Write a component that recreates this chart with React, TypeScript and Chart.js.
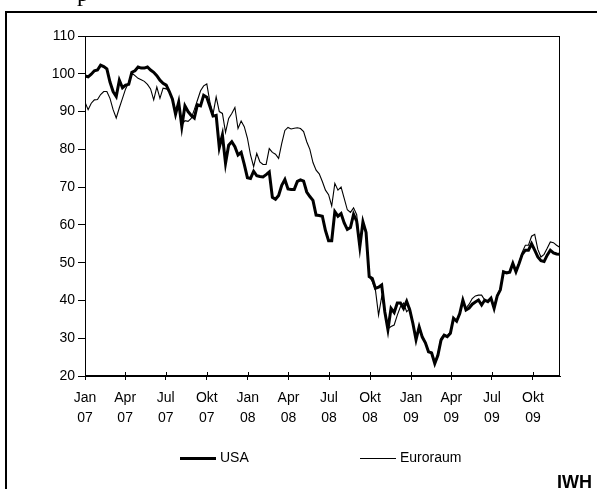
import React, { useEffect, useRef } from "react";
import { Chart, registerables } from "chart.js";

Chart.register(...registerables);

// ---- data (weekly index values, first week = start of January 2007) ----
const startDate = "2007-01-01";
const tickDates = [
  "2007-01-01", "2007-04-01", "2007-07-01", "2007-10-01",
  "2008-01-01", "2008-04-01", "2008-07-01", "2008-10-01",
  "2009-01-01", "2009-04-01", "2009-07-01", "2009-10-01",
];
const tickLabels = [
  "Jan 07", "Apr 07", "Jul 07", "Okt 07",
  "Jan 08", "Apr 08", "Jul 08", "Okt 08",
  "Jan 09", "Apr 09", "Jul 09", "Okt 09",
];
const seriesNames = ["USA", "Euroraum"];

const usa = [
  99.4, 99.2, 99.9, 100.8, 101.0, 102.3, 101.9, 101.3, 97.8, 95.3,
  94.0, 98.3, 96.3, 97.0, 97.2, 100.4, 100.8, 101.8, 101.5, 101.5,
  101.8, 101.0, 100.4, 99.5, 98.3, 97.5, 97.0, 95.3, 93.3, 89.3,
  92.5, 86.0, 91.5, 90.0, 89.0, 88.3, 91.8, 91.5, 94.3, 93.8,
  91.3, 88.8, 89.0, 80.5, 83.8, 76.3, 81.1, 82.0, 80.7, 78.5,
  79.2, 76.0, 72.5, 72.3, 74.2, 73.0, 72.8, 72.7, 73.3, 74.0,
  67.3, 66.8, 67.8, 70.5, 72.0, 69.5, 69.4, 69.4, 71.5, 71.9,
  71.6, 68.7, 67.5, 66.5, 62.6, 62.5, 62.3, 58.5, 55.8, 55.8,
  63.5, 62.3, 63.0, 60.5, 58.8, 59.3, 62.8, 61.0, 54.2, 60.8,
  58.0, 46.3, 45.8, 43.2, 43.5, 44.1, 37.0, 32.3, 37.9, 36.8,
  39.3, 39.3, 37.9, 39.8, 37.5, 33.9, 29.6, 33.0, 30.3, 28.8,
  26.4, 26.1, 23.3, 25.5, 29.5, 30.8, 30.4, 31.3, 35.3, 34.5,
  36.5, 40.1, 37.5, 38.0, 39.0, 39.6, 40.1, 38.8, 40.1, 39.7,
  40.6, 37.9, 41.2, 42.8, 47.6, 47.3, 47.5, 49.8, 47.6, 49.8,
  52.2, 53.3, 53.3, 55.0, 53.3, 51.5, 50.5, 50.3, 52.0, 53.3,
  52.6, 52.3, 52.2,
];

const euroraum = [
  92.5, 90.5, 92.2, 93.1, 93.2, 94.5, 95.3, 95.3, 93.5, 90.5,
  88.3, 91.0, 93.5, 96.0, 97.7, 100.2, 99.5, 98.8, 98.4, 98.0,
  97.2, 96.0, 93.1, 96.5, 93.5, 96.2, 96.0, 95.5, 93.0, 89.5,
  92.0, 86.5, 87.6, 87.4, 88.2, 90.5, 93.0, 95.5, 96.8, 97.3,
  92.5, 89.3, 93.9, 90.0, 89.5, 84.5, 88.2, 89.5, 91.1, 85.5,
  87.5, 86.0, 83.0, 78.5, 75.4, 78.9, 76.7, 76.0, 76.0, 80.2,
  79.2, 78.7, 77.6, 81.6, 85.0, 85.8, 85.4, 85.6, 85.7, 85.5,
  84.7, 82.0, 80.0, 76.5, 74.5, 73.5, 71.5, 69.2, 68.0, 65.0,
  71.0, 69.2, 70.0, 67.0, 64.0, 63.3, 64.5, 62.7, 54.5, 60.5,
  58.5, 46.3, 45.0, 42.8, 36.1, 41.0, 37.5, 32.5, 33.1, 33.5,
  36.1, 38.3, 39.3, 37.0, 37.9, 34.0, 29.8, 33.3, 30.5, 29.0,
  26.5, 26.3, 23.5, 26.0, 30.0, 31.0, 30.6, 31.6, 35.0, 34.8,
  36.5, 39.5, 38.0, 39.0, 40.5, 41.2, 41.4, 41.4, 40.1, 39.8,
  40.6, 38.3, 41.5, 43.0, 47.2, 47.5, 47.5, 49.3, 48.0, 50.0,
  52.8, 54.6, 54.6, 57.0, 57.5, 53.5, 51.5, 52.2, 53.8, 55.5,
  55.3, 54.6, 54.1,
];

const weekOf = (d: string) =>
  (Date.parse(d) - Date.parse(startDate)) / (7 * 86400000);

const FONT = '"Liberation Sans", Arial, sans-serif';

const decorPlugin = {
  id: "decor",
  afterDraw(chart: any) {
    const ctx = chart.ctx as CanvasRenderingContext2D;
    const a = chart.chartArea;
    ctx.save();
    // plot border
    ctx.strokeStyle = "#000";
    ctx.lineWidth = 1;
    ctx.strokeRect(
      Math.round(a.left) + 0.5,
      Math.round(a.top) + 0.5,
      Math.round(a.right - a.left) - 1,
      Math.round(a.bottom - a.top) - 1
    );
    // inner part of x ticks
    const xs = chart.scales.x;
    ctx.beginPath();
    xs.ticks.forEach((t: any) => {
      const px = Math.round(xs.getPixelForValue(t.value)) + 0.5;
      ctx.moveTo(px, a.bottom);
      ctx.lineTo(px, a.bottom - 4);
    });
    ctx.stroke();

    // legend
    const legendY = 458.5;
    const items = [
      { x: 180, ds: chart.data.datasets[0], w: 3 },
      { x: 360, ds: chart.data.datasets[1], w: 1 },
    ];
    ctx.font = `14px ${FONT}`;
    ctx.textBaseline = "middle";
    ctx.textAlign = "left";
    ctx.fillStyle = "#000";
    items.forEach((it) => {
      ctx.beginPath();
      ctx.lineWidth = it.w;
      ctx.strokeStyle = it.ds.borderColor;
      ctx.moveTo(it.x, legendY);
      ctx.lineTo(it.x + 36, legendY);
      ctx.stroke();
      ctx.fillText(it.ds.label, it.x + 40, legendY - 0.5);
    });

    // outer frame
    ctx.lineWidth = 2;
    ctx.strokeStyle = "#000";
    ctx.beginPath();
    ctx.moveTo(6, 489);
    ctx.lineTo(6, 12);
    ctx.lineTo(597, 12);
    ctx.stroke();

    // IWH
    ctx.font = `bold 18px ${FONT}`;
    ctx.textBaseline = "alphabetic";
    ctx.fillText("IWH", 557, 488);

    // clipped heading letter at top
    ctx.font = '24px "Liberation Serif", serif';
    ctx.fillText("p", 77, 1);
    ctx.restore();
  },
};

export default function App() {
  const ref = useRef<HTMLCanvasElement | null>(null);

  useEffect(() => {
    if (!ref.current) return;
    const chart = new Chart(ref.current, {
      type: "line",
      data: {
        datasets: [
          {
            label: seriesNames[0],
            data: usa.map((v, i) => ({ x: i, y: v })),
            borderColor: "#000",
            borderWidth: 3,
            pointRadius: 0,
            tension: 0,
            fill: false,
          },
          {
            label: seriesNames[1],
            data: euroraum.map((v, i) => ({ x: i, y: v })),
            borderColor: "#000",
            borderWidth: 1.1,
            pointRadius: 0,
            tension: 0,
            fill: false,
          },
        ],
      },
      options: {
        responsive: false,
        animation: false,
        devicePixelRatio: 1,
        layout: { padding: { left: 0, top: 36, right: 40, bottom: 0 } },
        plugins: { legend: { display: false }, tooltip: { enabled: false } },
        scales: {
          x: {
            type: "linear",
            min: 0,
            max: 152.1,
            afterBuildTicks: (s: any) => {
              s.ticks = tickDates.map((d) => ({ value: weekOf(d) }));
            },
            afterFit: (s: any) => {
              s.height = 113;
            },
            ticks: {
              autoSkip: false,
              maxRotation: 0,
              minRotation: 0,
              padding: 8,
              color: "#000",
              font: { family: FONT, size: 14, lineHeight: 1.43 },
              callback: (_v: any, i: number) => tickLabels[i].split(" "),
            },
            grid: {
              drawOnChartArea: false,
              drawTicks: true,
              tickLength: 4,
              color: "#000",
              lineWidth: 1,
            },
            border: { color: "#000", width: 1 },
          },
          y: {
            min: 20,
            max: 110,
            afterFit: (s: any) => {
              s.width = 85;
            },
            ticks: {
              stepSize: 10,
              padding: 3,
              color: "#000",
              font: { family: FONT, size: 14 },
            },
            grid: {
              drawOnChartArea: false,
              drawTicks: true,
              tickLength: 7,
              color: "#000",
              lineWidth: 1,
            },
            border: { color: "#000", width: 1 },
          },
        },
      },
      plugins: [decorPlugin],
    } as any);
    return () => chart.destroy();
  }, []);

  return (
    <div
      style={{
        position: "absolute",
        left: 0,
        top: 0,
        width: 600,
        height: 489,
        background: "#fff",
      }}
    >
      <canvas ref={ref} width={600} height={489} />
    </div>
  );
}
